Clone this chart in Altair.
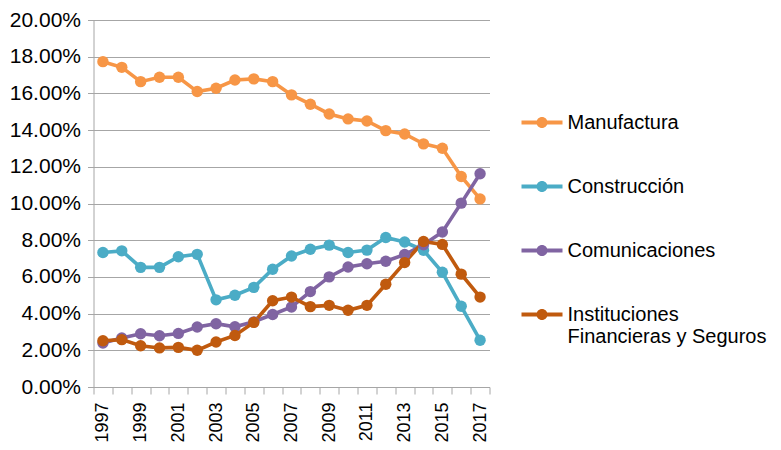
import altair as alt
import pandas as pd

years = list(range(1997, 2018))
series_names = ["Manufactura", "Construcción", "Comunicaciones",
                "Instituciones Financieras y Seguros"]
manufactura = [17.73, 17.42, 16.64, 16.88, 16.88, 16.10, 16.28, 16.73, 16.79, 16.64,
               15.92, 15.41, 14.88, 14.61, 14.50, 13.97, 13.79, 13.25, 13.01, 11.47, 10.25]
construccion = [7.33, 7.42, 6.52, 6.52, 7.10, 7.23, 4.75, 5.00, 5.43, 6.42,
                7.14, 7.51, 7.73, 7.33, 7.46, 8.15, 7.90, 7.45, 6.25, 4.40, 2.55]
comunicaciones = [2.40, 2.67, 2.90, 2.79, 2.92, 3.27, 3.45, 3.28, 3.55, 3.95,
                  4.36, 5.20, 6.00, 6.54, 6.72, 6.85, 7.22, 7.75, 8.45, 10.02, 11.62]
instituciones = [2.52, 2.58, 2.25, 2.13, 2.16, 2.00, 2.45, 2.81, 3.52, 4.70,
                 4.90, 4.38, 4.45, 4.18, 4.45, 5.60, 6.78, 7.93, 7.77, 6.15, 4.90]
colors = ["#F79646", "#4BACC6", "#8064A2", "#C05A0E"]
y_ticks = [0, 0.02, 0.04, 0.06, 0.08, 0.10, 0.12, 0.14, 0.16, 0.18, 0.20]

rows = []
for name, vals in zip(series_names, [manufactura, construccion, comunicaciones, instituciones]):
    for i, (yr, v) in enumerate(zip(years, vals)):
        rows.append({"year": yr, "value": v / 100.0, "serie": name})
df = pd.DataFrame(rows)

FONT = "Liberation Sans"
legend_path = ("M-1,-0.1L1,-0.1L1,0.1L-1,0.1Z "
               "M-0.27,0A0.27,0.27 0 1,1 0.27,0A0.27,0.27 0 1,1 -0.27,0Z")

x_enc = alt.X("year:O",
              scale=alt.Scale(type="band", paddingInner=0, paddingOuter=0),
              axis=alt.Axis(title=None, tickBand="extent", labelAngle=-90,
                            labelExpr="datum.value % 2 == 1 ? datum.label : ''",
                            labelFontSize=18, labelFont=FONT, labelColor="#000000",
                            domainColor="#A6A6A6", tickColor="#A6A6A6", tickSize=7,
                            labelPadding=8, grid=False, labelAlign="right",
                            labelBaseline="middle"))
y_enc = alt.Y("value:Q",
              scale=alt.Scale(domain=[0, 0.2], nice=False),
              axis=alt.Axis(title=None, values=y_ticks, format=".2%",
                            labelFontSize=21, labelFont=FONT, labelColor="#000000",
                            domainColor="#A6A6A6", tickColor="#A6A6A6", tickSize=6,
                            labelPadding=7, grid=True, gridColor="#A6A6A6",
                            gridWidth=1.2))

color_scale = alt.Scale(domain=series_names, range=colors)
legend = alt.Legend(
    title=None, orient="none", legendX=428, legendY=82,
    symbolType=legend_path, symbolSize=1681,
    symbolStrokeWidth=0, symbolOpacity=1,
    labelFont=FONT, labelFontSize=20, labelColor="#000000",
    labelOffset=5, rowPadding=33, labelLimit=400,
    padding=0,
    labelExpr="datum.label == 'Instituciones Financieras y Seguros' ? ['Instituciones', 'Financieras y Seguros'] : datum.label")

lines = alt.Chart(df).mark_line(strokeWidth=3.6).encode(
    x=x_enc, y=y_enc,
    color=alt.Color("serie:N", scale=color_scale, sort=series_names, legend=legend),
)
points = alt.Chart(df).mark_point(filled=True, size=130, opacity=1).encode(
    x=x_enc, y=y_enc,
    color=alt.Color("serie:N", scale=color_scale, sort=series_names, legend=legend),
)

chart = alt.layer(lines, points).properties(
    width=396, height=367,
    autosize=alt.AutoSizeParams(type="none"),
    padding={"left": 85.5, "top": 12, "right": 283, "bottom": 55},
).configure_view(stroke=None)

chart.save("out.html", embed_options={"renderer": "svg", "actions": False})
